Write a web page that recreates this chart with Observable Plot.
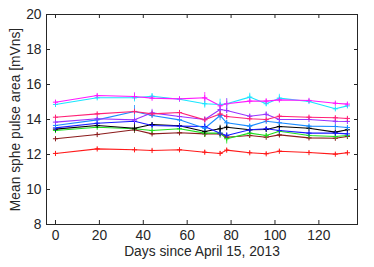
<!DOCTYPE html>
<html>
<head>
<meta charset="utf-8">
<script src="https://cdn.jsdelivr.net/npm/d3@7"></script>
<script src="https://cdn.jsdelivr.net/npm/@observablehq/plot@0.6"></script>
<style>
  html, body { margin: 0; padding: 0; background: #fff; }
  svg { display: block; }
</style>
</head>
<body>
<div id="chart"></div>
<script>
// Days since April 15, 2013
const days = [0, 19, 36, 44, 56.5, 68, 75, 78, 88.5, 96, 102, 115.5, 127.5, 133];

// Mean sphe pulse area [mVns] per channel
const magenta   = [14.99, 15.37, 15.31, 15.22, 15.18, 15.24, 14.78, 14.90, 15.05, 15.05, 15.12, 15.09, 14.93, 14.88];
const cyan      = [14.86, 15.24, 15.24, 15.33, 15.16, 14.90, 14.86, 14.90, 15.28, 14.90, 15.22, 15.03, 14.61, 14.78];
const rose      = [14.13, 14.32, 14.46, 14.32, 14.40, 13.98, 14.32, 14.17, 14.04, 14.00, 14.19, 14.13, 14.10, 14.06];
const purple    = [13.85, 14.04, 13.98, 14.38, 14.17, 14.00, 14.57, 14.51, 14.19, 14.30, 14.00, 14.00, 13.90, 13.89];
const lightBlue = [13.66, 13.98, 14.46, 14.23, 13.98, 13.50, 14.23, 13.81, 13.62, 13.90, 13.81, 13.62, 13.60, 13.54];
const blue      = [13.52, 13.79, 13.90, 13.66, 13.62, 13.60, 13.22, 13.09, 13.41, 13.47, 13.37, 13.22, 13.22, 13.18];
const black     = [13.45, 13.66, 13.50, 13.71, 13.64, 13.31, 13.47, 13.56, 13.41, 13.43, 13.60, 13.50, 13.28, 13.41];
const green     = [13.37, 13.56, 13.47, 13.37, 13.47, 13.22, 13.22, 12.90, 13.22, 13.09, 13.33, 13.09, 13.03, 13.09];
const brown     = [12.90, 13.14, 13.41, 13.18, 13.24, 13.18, 13.18, 12.99, 13.09, 12.99, 13.12, 12.95, 12.93, 13.03];
const red       = [12.06, 12.32, 12.27, 12.23, 12.27, 12.13, 12.06, 12.25, 12.10, 12.04, 12.19, 12.11, 12.02, 12.10];

// Error bar half-lengths
const magentaErr   = [0.08, 0.06, 0.22, 0.08, 0.05, 0.30, 0.10, 0.28, 0.10, 0.12, 0.06, 0.06, 0.05, 0.06];
const cyanErr      = [0.08, 0.06, 0.24, 0.15, 0.05, 0.25, 0.30, 0.30, 0.22, 0.15, 0.22, 0.08, 0.06, 0.08];
const roseErr      = [0.06, 0.05, 0.10, 0.08, 0.05, 0.15, 0.10, 0.10, 0.08, 0.08, 0.10, 0.06, 0.06, 0.06];
const purpleErr    = [0.06, 0.06, 0.10, 0.20, 0.08, 0.15, 0.15, 0.15, 0.10, 0.12, 0.08, 0.06, 0.06, 0.06];
const lightBlueErr = [0.06, 0.06, 0.34, 0.12, 0.08, 0.20, 0.30, 0.15, 0.10, 0.10, 0.08, 0.06, 0.06, 0.06];
const blueErr      = [0.06, 0.06, 0.10, 0.08, 0.06, 0.20, 0.20, 0.15, 0.08, 0.08, 0.08, 0.06, 0.06, 0.06];
const blackErr     = [0.08, 0.08, 0.28, 0.10, 0.08, 0.28, 0.20, 0.20, 0.10, 0.10, 0.10, 0.06, 0.06, 0.06];
const greenErr     = [0.08, 0.08, 0.15, 0.08, 0.06, 0.25, 0.30, 0.30, 0.10, 0.10, 0.08, 0.06, 0.06, 0.06];
const brownErr     = [0.06, 0.05, 0.12, 0.08, 0.05, 0.20, 0.15, 0.10, 0.08, 0.08, 0.08, 0.05, 0.05, 0.06];
const redErr       = [0.05, 0.05, 0.06, 0.05, 0.05, 0.10, 0.10, 0.10, 0.06, 0.06, 0.06, 0.05, 0.05, 0.05];

const seriesNames  = ["brown", "green", "black", "blue", "lightBlue", "purple", "rose", "cyan", "magenta", "red"];
const seriesColors = ["#8b1c1c", "#1ee01e", "#000000", "#1a1aff", "#1a8cff", "#9933ff", "#ff2277", "#19e6ff", "#ff19ff", "#ff1a1a"];
const seriesValues = [brown, green, black, blue, lightBlue, purple, rose, cyan, magenta, red];
const seriesErrors = [brownErr, greenErr, blackErr, blueErr, lightBlueErr, purpleErr, roseErr, cyanErr, magentaErr, redErr];

const xTicks = [0, 20, 40, 60, 80, 100, 120];
const yTicks = [8, 10, 12, 14, 16, 18, 20];

const rows = [];
seriesNames.forEach((name, s) => {
  days.forEach((day, i) => {
    rows.push({series: name, day, value: seriesValues[s][i], err: seriesErrors[s][i]});
  });
});

const colorScale = {domain: seriesNames, range: seriesColors};
const noText = () => "";

const chart = Plot.plot({
  width: 374,
  height: 267,
  marginLeft: 46,
  marginRight: 17,
  marginTop: 14,
  marginBottom: 43,
  style: {fontFamily: "'Liberation Sans', Arial, Helvetica, sans-serif", fontSize: "13.8px", color: "#262626", background: "#fff"},
  x: {domain: [-4.1, 137.6]},
  y: {domain: [8, 20]},
  color: colorScale,
  marks: [
    Plot.ruleX(rows, {x: "day", y1: d => d.value - d.err, y2: d => d.value + d.err, stroke: "series", strokeWidth: 1, strokeOpacity: 0.8}),
    Plot.line(rows, {x: "day", y: "value", z: "series", stroke: "series", strokeWidth: 1.1}),
    Plot.dot(rows, {x: "day", y: "value", stroke: "series", symbol: "plus", r: 1.8, strokeWidth: 1}),
    Plot.frame({stroke: "#262626", strokeWidth: 1}),
    // tick labels
    Plot.axisX({anchor: "bottom", ticks: xTicks, tickSize: 0, tickPadding: 6, label: "Days since April 15, 2013", labelAnchor: "center", labelArrow: "none", labelOffset: 31}),
    Plot.axisY({anchor: "left", ticks: yTicks, tickSize: 0, tickPadding: 5, label: "Mean sphe pulse area [mVns]", labelAnchor: "center", labelArrow: "none", labelOffset: 36}),
    // inward tick marks on all four sides
    Plot.axisX({anchor: "bottom", ticks: xTicks, tickSize: 4, insetBottom: 4, tickFormat: noText, label: null, stroke: "#262626"}),
    Plot.axisX({anchor: "top", ticks: xTicks, tickSize: 3, insetTop: 3, tickFormat: noText, label: null, stroke: "#262626"}),
    Plot.axisY({anchor: "left", ticks: yTicks, tickSize: 4, insetLeft: 4, tickFormat: noText, label: null, stroke: "#262626"}),
    Plot.axisY({anchor: "right", ticks: yTicks, tickSize: 4, insetRight: 4, tickFormat: noText, label: null, stroke: "#262626"})
  ]
});

document.getElementById("chart").appendChild(chart);
</script>
</body>
</html>
